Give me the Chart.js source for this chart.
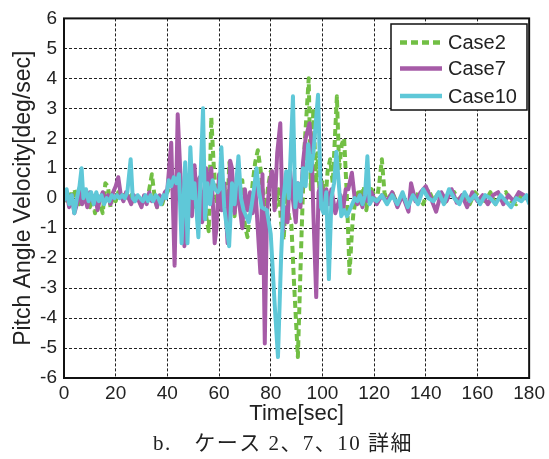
<!DOCTYPE html>
<html>
<head>
<meta charset="utf-8">
<script src="https://cdn.jsdelivr.net/npm/chart.js@4.4.0/dist/chart.umd.min.js"></script>
<style>
  body { margin: 0; background: #fff; }
  #wrap { width: 549px; height: 459px; }
</style>
</head>
<body>
<div id="wrap"><canvas id="pitchChart" width="549" height="459"></canvas></div>
<script>
// series labels / colours
const labels = ["Case2", "Case7", "Case10"]
const caption = "b.\u3000ケース 2、7、10 詳細"
const xTitle = "Time[sec]"
const yTitle = "Pitch Angle Velocity[deg/sec]"

// Case2 (green, dashed)
const case2T = [0,1,2,3,4,5,6,7,8,9,
    10,11,12,13,14,15,16,17,18,19,
    20,21,22,23,24,25,26,27,28,29,
    30,31,32,33,34,35,36,37,38,39,
    40,41,42,43,44,45,46,47,48,49,
    50,51,52,53,54,55,56,57,58,59,
    60,61,62,63,64,65,66,67,68,69,
    70,71,72,73,74,75,76,77,78,79,
    80,81,82,83,84,85,86,87,88,
    89,90.5,92,93,94.7,95.5,96.5,97.5,98,99,
    100,101,102,103,104,105.6,106.5,107.5,108.4,109.5,
    110.5,111.5,112,113,114,115,116,117,118,119,
    120,121,122,123,124,125,
    127,129,131,133,135,137,139,141,143,145,
    147,149,151,153,155,157,159,161,163,165,
    167,169,171,173,175,177,179,180]
const case2V = [0.1,-0.2,0.2,-0.1,0.3,0.0,-0.2,0.2,-0.1,0.1,
    -0.3,0.0,-0.5,0.1,-0.2,-0.5,0.5,0.4,-0.3,0.1,
    -0.1,0.2,0.0,0.1,-0.1,0.0,0.1,-0.1,0.1,0.0,
    -0.1,0.1,-0.2,0.3,0.8,0.1,-0.3,0.0,-0.2,0.1,
    0.2,0.4,0.6,-0.2,0.5,0.3,-0.4,0.6,0.2,-0.5,
    0.4,-0.3,0.7,0.0,0.3,-0.6,-1.1,2.7,1.0,-0.1,
    0.4,-0.2,0.6,-0.8,1.2,0.2,-0.6,0.8,-0.3,0.6,
    -0.9,-1.3,-0.4,0.5,1.2,1.6,1.0,0.2,-0.5,0.4,
    0.9,0.4,-0.3,0.3,-0.8,-1.4,0.2,-0.6,-0.9,
    -2.8,-5.3,-1.0,1.6,4.0,0.3,3.0,0.5,1.5,0.1,
    0.6,-0.3,0.9,1.3,0.5,3.4,1.0,1.8,2.0,0.0,
    -2.5,-1.0,-0.5,0.0,0.3,-0.2,0.4,-0.4,0.2,0.3,
    0.1,-0.1,0.5,1.3,0.2,-0.1,
    0.2,-0.2,0.1,-0.3,0.2,0.1,-0.2,0.3,-0.1,0.2,
    -0.2,0.1,0.2,-0.1,0.1,-0.2,0.2,0.0,-0.1,0.2,
    -0.2,0.1,0.2,-0.1,-0.2,0.1,0.0,-0.1]

// Case7 (purple)
const case7T = [0,1,2,3,4,5,6,7,8,9,
    10,11,12,13,14,15,16,17,18,19,
    20,21,22,23,24,25,26,27,28,29,
    30,31,32,33,34,35,36,37,38,39,
    40,
    41.5,42.8,44,45,46.6,47.5,48.5,49.5,50.5,51.5,
    52.5,53.5,55,56,57,58.3,59,60,61,62,
    63.3,64.3,65,66,67,68,69,70,71,72,
    73,74,76,76.8,77.7,78.5,79.5,80.5,81.5,82.5,
    83.7,84.7,85.5,86.5,87.5,88.5,89.7,90.5,91.5,92.5,
    93.5,95,95.8,96.5,97.6,98.5,99.5,100.5,101.5,102.5,
    103.5,105,106,107,108,109,110,111.4,112.5,113.5,
    114.5,115.5,116.5,117.5,119,121,123,125,127,129,
    131,133.3,134.3,136,138,140,142,144,146,148,
    150,152,154,156,158,160,162,164,166,168,
    170,172,174,176,178,180]
const case7V = [-0.1,0.2,-0.3,0.1,-0.5,-0.2,0.3,-0.2,0.1,-0.3,
    0.2,-0.1,0.1,-0.4,0.0,0.2,-0.1,0.1,-0.2,0.2,
    0.4,0.7,0.1,-0.1,0.2,0.0,-0.2,0.1,0.0,-0.1,
    -0.3,0.1,-0.2,0.2,-0.1,0.0,-0.3,0.1,-0.1,0.2,
    0.3,
    1.85,-2.25,2.8,0.9,-1.6,-0.5,0.8,-0.6,1.1,-0.3,
    0.7,-0.8,1.0,0.4,1.0,-1.5,-1.0,0.8,-0.4,0.5,
    -1.5,1.25,1.0,-0.5,0.4,-0.3,-1.0,0.3,-0.4,0.2,
    -0.5,0.4,-2.5,0.8,-4.85,-0.6,0.5,0.9,-0.4,1.5,
    2.5,-1.1,-0.3,-0.8,0.9,0.0,-0.8,0.5,-0.3,1.2,
    2.0,2.5,1.8,-0.5,-3.3,0.2,0.5,-0.3,0.3,-0.2,
    0.3,-0.5,-0.2,0.1,-0.4,0.3,0.3,0.85,0.0,-0.2,
    0.1,-0.3,0.2,-0.1,0.2,-0.2,0.1,-0.1,0.2,-0.3,
    0.1,-0.45,0.5,-0.1,0.2,0.4,0.0,-0.45,0.2,-0.1,
    0.3,-0.15,0.1,-0.3,0.2,-0.1,0.1,-0.2,0.1,0.2,
    -0.2,0.1,-0.1,0.2,0.1,-0.1]

// Case10 (cyan)
const case10T = [0,1,2,3,4,5,6,6.8,7.5,8.5,
    9.5,10.5,11.5,12.5,13.5,14.5,15.5,16.5,17.5,18.5,
    19.5,20.5,21.5,22.5,23.5,24.5,25.8,26.6,27.5,28.5,
    29.5,30.5,31.5,32.5,33.5,34.5,35.5,36.5,37.5,38.5,
    39.5,40.5,41.5,42.5,43.5,44.5,45.5,46.9,47.8,48.9,
    49.8,50.5,52,53.8,54.6,55.5,56.5,57.5,58.5,59.5,
    60.2,60.9,62,63.9,65,66,67.5,68.5,69.5,70.5,
    71.5,72.5,73.5,74.5,75.5,76.5,78.5,80,81.5,82.8,
    84,85,86,87,88.6,89.5,90.5,91.5,92.5,93.5,
    94.5,95.5,96.5,98.3,99.5,100.5,101.5,102.5,103.5,104.5,
    105.4,106.5,107.3,108.5,109.5,110.5,111.5,112.5,113.5,114.5,
    115.5,116.5,117.4,118.3,119.5,121,123,125,127,129,
    131,133,135,137,139,141,143,145,147,149,
    151,153,155,157,159,161,163,165,167,169,
    171,173,175,177,179,180]
const case10V = [-0.1,0.3,-0.2,0.1,-0.5,0.0,0.4,1.0,0.0,0.3,
    -0.1,0.2,-0.2,0.2,-0.1,0.1,-0.2,0.0,-0.1,0.1,
    0.0,0.1,0.0,0.1,0.0,0.2,1.3,0.0,-0.1,0.1,
    0.0,-0.1,0.1,-0.1,0.1,-0.1,0.1,0.0,-0.2,0.1,
    0.0,0.6,0.4,0.7,0.5,0.8,-1.5,1.2,-1.5,1.7,
    0.0,0.5,-1.3,3.0,-0.7,0.5,-0.2,0.6,0.3,0.2,
    0.3,1.7,-0.3,-1.6,0.5,-0.2,1.4,0.0,-0.4,-0.6,
    -0.8,-0.3,0.3,1.0,0.2,-0.3,-0.4,-1.2,-3.5,-5.3,
    -2.0,0.0,0.9,0.0,3.4,-0.3,0.5,-0.1,1.0,0.4,
    1.8,0.9,1.5,3.45,-0.3,-0.5,0.2,-2.7,0.0,0.5,
    1.55,0.3,-0.6,-0.4,-0.6,-0.4,-0.2,0.0,-0.1,0.1,
    -0.2,0.1,1.4,-0.2,0.0,-0.1,0.1,-0.2,0.1,-0.2,
    0.2,-0.3,0.1,-0.2,0.3,0.0,-0.1,0.2,-0.2,0.3,
    0.0,-0.2,0.2,-0.1,0.1,-0.2,0.1,0.0,-0.2,0.1,
    -0.1,-0.3,0.0,-0.1,0.1,-0.2]

const xTicks = [0,20,40,60,80,100,120,140,160,180]
const yTicks = [-6,-5,-4,-3,-2,-1,0,1,2,3,4,5,6]

const green = "#72bf44"
const purple = "#a65ba7"
const cyan = "#5fc8d8"

function toPoints(ts, vs){
    let pts = []
    for(let i = 0; i < ts.length; i++){
        pts.push({x: ts[i], y: vs[i]})
    }
    return pts
}

const sansFont = "'Liberation Sans', Arial, sans-serif"

// black frame round the plot area
const framePlugin = {
    id: "frame",
    afterDraw(chart){
        const {ctx, chartArea: a} = chart
        ctx.save()
        ctx.strokeStyle = "#111"
        ctx.lineWidth = 2
        ctx.strokeRect(a.left, a.top, a.right - a.left, a.bottom - a.top)
        ctx.restore()
    }
}

// matlab style legend box inside the axes
const boxLegend = {
    id: "boxLegend",
    afterDraw(chart){
        const ctx = chart.ctx
        const x0 = 391, y0 = 24, w = 136, h = 86
        ctx.save()
        ctx.fillStyle = "#fff"
        ctx.fillRect(x0, y0, w, h)
        ctx.strokeStyle = "#111"
        ctx.lineWidth = 1.5
        ctx.strokeRect(x0, y0, w, h)
        const rows = [42.5, 68.5, 96]
        chart.data.datasets.forEach((ds, i) => {
            const y = rows[i]
            ctx.beginPath()
            ctx.strokeStyle = ds.borderColor
            ctx.lineWidth = 4.5
            ctx.setLineDash(ds.borderDash || [])
            ctx.moveTo(400, y)
            ctx.lineTo(442, y)
            ctx.stroke()
            ctx.setLineDash([])
            ctx.fillStyle = "#222"
            ctx.font = "20px " + sansFont
            ctx.textAlign = "left"
            ctx.textBaseline = "middle"
            ctx.fillText(ds.label, 448, y + 1)
        })
        ctx.restore()
    }
}

// figure caption under the chart
const captionPlugin = {
    id: "caption",
    afterDraw(chart){
        const ctx = chart.ctx
        ctx.save()
        ctx.fillStyle = "#222"
        ctx.font = "21px 'Liberation Serif', 'Noto Sans CJK JP', serif"
        ctx.letterSpacing = "1.5px"
        ctx.textAlign = "center"
        ctx.textBaseline = "middle"
        ctx.fillText(caption, 283, 444)
        ctx.restore()
    }
}

new Chart("pitchChart", {
    type: "line",
    data: {
        datasets: [
            {
                label: labels[0],
                data: toPoints(case2T, case2V),
                borderColor: green,
                borderWidth: 4,
                borderDash: [7, 4],
                order: 3
            },
            {
                label: labels[1],
                data: toPoints(case7T, case7V),
                borderColor: purple,
                borderWidth: 4,
                order: 2
            },
            {
                label: labels[2],
                data: toPoints(case10T, case10V),
                borderColor: cyan,
                borderWidth: 4,
                order: 1
            }
        ]
    },
    options: {
        responsive: false,
        animation: false,
        events: [],
        layout: {
            padding: {top: 17, right: 19, left: 0, bottom: 0}
        },
        elements: {
            point: {radius: 0},
            line: {tension: 0, borderJoinStyle: "round", borderCapStyle: "butt", fill: false}
        },
        plugins: {
            legend: {display: false},
            tooltip: {enabled: false}
        },
        scales: {
            x: {
                type: "linear",
                min: 0,
                max: 180,
                afterFit(scale){ scale.height = 81 },
                afterBuildTicks(scale){ scale.ticks = xTicks.map(v => ({value: v})) },
                ticks: {
                    autoSkip: false,
                    maxRotation: 0,
                    padding: 4,
                    color: "#222",
                    font: {family: sansFont, size: 19}
                },
                grid: {color: "#222", lineWidth: 1, drawTicks: false},
                border: {display: false, dash: [3, 2]},
                title: {
                    display: true,
                    text: xTitle,
                    color: "#222",
                    font: {family: sansFont, size: 22},
                    padding: {top: 0, bottom: 32}
                }
            },
            y: {
                min: -6,
                max: 6,
                afterFit(scale){ scale.width = 64 },
                afterBuildTicks(scale){ scale.ticks = yTicks.map(v => ({value: v})) },
                ticks: {
                    padding: 7,
                    color: "#222",
                    font: {family: sansFont, size: 19}
                },
                grid: {color: "#222", lineWidth: 1, drawTicks: false},
                border: {display: false, dash: [3, 2]},
                title: {
                    display: true,
                    text: yTitle,
                    color: "#222",
                    font: {family: sansFont, size: 23},
                    padding: {top: 10, bottom: 0}
                }
            }
        }
    },
    plugins: [framePlugin, boxLegend, captionPlugin]
});
</script>
</body>
</html>
